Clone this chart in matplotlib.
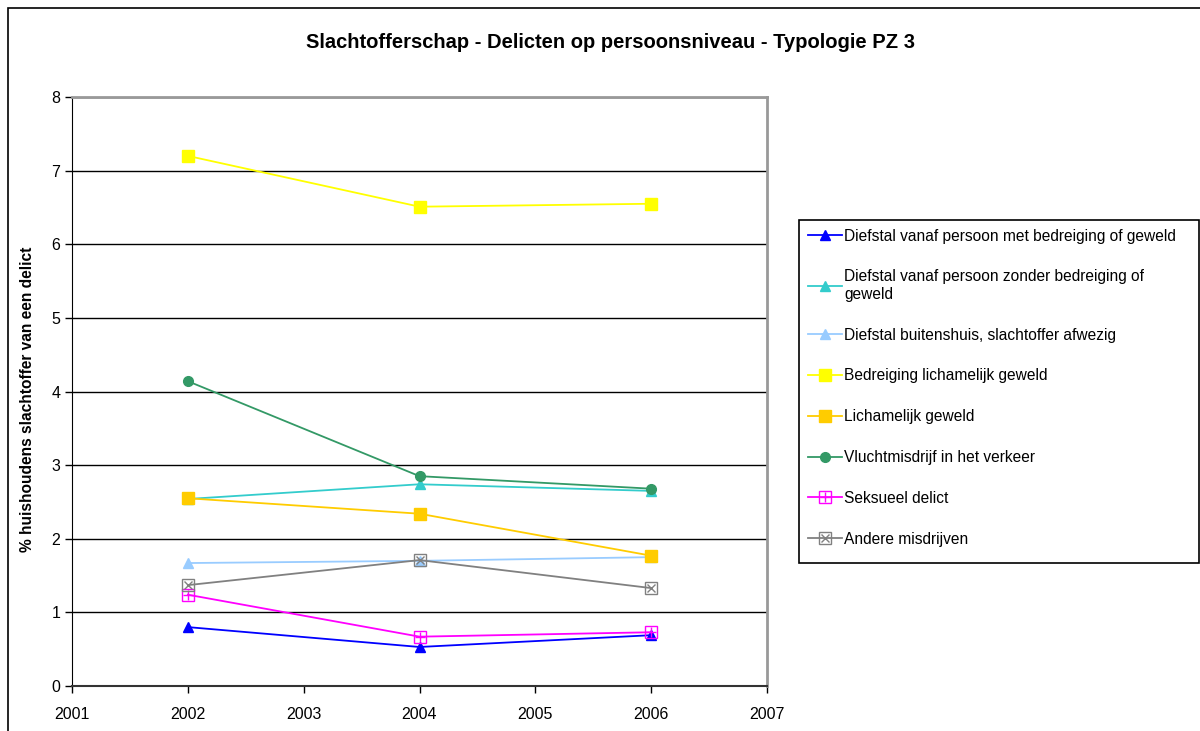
import matplotlib
matplotlib.use("Agg")
from matplotlib import pyplot as plt
from matplotlib.patches import Rectangle
from matplotlib.lines import Line2D
from matplotlib.legend_handler import HandlerTuple

plt.rcParams['font.family'] = ['Liberation Sans', 'DejaVu Sans']

years = [2002, 2004, 2006]
labels = ["Diefstal vanaf persoon met bedreiging of geweld",
          "Diefstal vanaf persoon zonder bedreiging of\ngeweld",
          "Diefstal buitenshuis, slachtoffer afwezig",
          "Bedreiging lichamelijk geweld",
          "Lichamelijk geweld",
          "Vluchtmisdrijf in het verkeer",
          "Seksueel delict",
          "Andere misdrijven"]
diefstal_met = [0.80, 0.53, 0.69]
diefstal_zonder = [2.54, 2.74, 2.65]
diefstal_buiten = [1.67, 1.70, 1.75]
bedreiging = [7.20, 6.51, 6.55]
lichamelijk = [2.55, 2.34, 1.77]
vluchtmisdrijf = [4.14, 2.85, 2.68]
seksueel = [1.24, 0.67, 0.73]
andere = [1.37, 1.71, 1.33]

series = [diefstal_met, diefstal_zonder, diefstal_buiten, bedreiging,
          lichamelijk, vluchtmisdrijf, seksueel, andere]
colors = ['#0000ff', '#33cccc', '#99ccff', '#ffff00', '#ffcc00',
          '#339966', '#ff00ff', '#808080']
markers = ['^', '^', '^', 's', 's', 'o', 'box+', 'boxx']

fig = plt.figure(figsize=(12, 7.31), dpi=100)
W, H = 1200, 731
ax = fig.add_axes([72 / W, 1 - 686 / H, (767 - 72) / W, (686 - 97) / H])

handles = []
for vals, c, m, lab in zip(series, colors, markers, labels):
    if m == 'box+' or m == 'boxx':
        ax.plot(years, vals, color=c, lw=1.3, marker='s', ms=8, mfc='none', mec=c, mew=1.0)
        inner = '+' if m == 'box+' else 'x'
        ax.plot(years, vals, ls='none', marker=inner, ms=7 if inner == '+' else 5.5, mec=c, mew=1.0)
        h = (Line2D([], [], color=c, lw=1.3, marker='s', ms=8, mfc='none', mec=c, mew=1.0),
             Line2D([], [], ls='none', marker=inner, ms=7 if inner == '+' else 5.5, mec=c, mew=1.0))
    else:
        ms = 7 if m == 'o' else (8 if m == 's' else 7)
        ax.plot(years, vals, color=c, lw=1.3, marker=m, ms=ms, mfc=c, mec=c)
        h = Line2D([], [], color=c, lw=1.3, marker=m, ms=ms, mfc=c, mec=c)
    handles.append(h)

ax.set_xlim(2001, 2007)
ax.set_ylim(0, 8)
ax.set_xticks(range(2001, 2008))
ax.set_yticks(range(0, 9))
ax.yaxis.grid(True, color='black', lw=1.0)
ax.set_axisbelow(True)
ax.tick_params(direction='out', length=5, labelsize=11.5, colors='black', width=1)
ax.tick_params(axis='x', pad=10)
for s in ['top', 'right']:
    ax.spines[s].set_color('#999999')
    ax.spines[s].set_linewidth(2)
ax.spines['left'].set_color('black')
ax.spines['bottom'].set_color('#333333')
ax.spines['bottom'].set_linewidth(1.5)
ax.set_ylabel("% huishoudens slachtoffer van een delict", fontsize=11.2,
              fontweight='bold')
ax.yaxis.set_label_coords(-0.053, 0.486)

fig.text(610 / W, 1 - 42 / H, "Slachtofferschap - Delicten op persoonsniveau - Typologie PZ 3",
         ha='center', va='center', fontsize=14.5, fontweight='bold')

# outer chart border
fig.patches.append(Rectangle((8 / W, -0.05), 1.2, 1 - 8 / H + 0.05,
                             transform=fig.transFigure, fill=False,
                             edgecolor='black', lw=1.2))

# legend box (Excel leaves empty room at the bottom)
fig.patches.append(Rectangle((799 / W, 1 - 563 / H), (1199 - 799) / W, (563 - 220) / H,
                             transform=fig.transFigure, fill=False,
                             edgecolor='black', lw=1.2))
leg = fig.legend(handles, labels, loc='upper left',
                 bbox_to_anchor=(799 / W, 1 - 563 / H, (1199 - 799) / W, (563 - 220) / H),
                 mode='expand', fontsize=11.2, frameon=False,
                 handlelength=2.2, handletextpad=0.15,
                 labelspacing=1.66, borderpad=0.55, borderaxespad=0,
                 handler_map={tuple: HandlerTuple(ndivide=1)})

fig.savefig("out.png", dpi=100)
